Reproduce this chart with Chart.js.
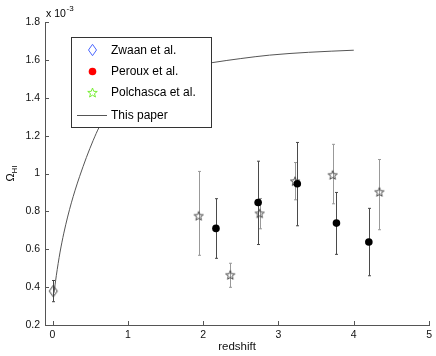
<!DOCTYPE html>
<html>
<head>
<meta charset="utf-8">
<script src="https://cdn.jsdelivr.net/npm/chart.js@4/dist/chart.umd.min.js"></script>
<style>
  html, body { margin: 0; padding: 0; background: #fff; }
  canvas { display: block; }
</style>
</head>
<body>
<canvas id="omega" width="436" height="356"></canvas>
<script>
// values in units of 1e-3
const zwaanZ = [0.01];
const zwaanOmega = [0.379];
const zwaanLow = [0.323];
const zwaanHigh = [0.435];

const perouxZ = [2.17, 2.73, 3.25, 3.77, 4.2];
const perouxOmega = [0.71, 0.847, 0.946, 0.738, 0.638];
const perouxLow = [0.552, 0.625, 0.724, 0.573, 0.46];
const perouxHigh = [0.867, 1.065, 1.164, 0.9, 0.816];

const polchascaZ = [1.94, 2.36, 2.75, 3.22, 3.72, 4.34];
const polchascaOmega = [0.777, 0.465, 0.79, 0.96, 0.993, 0.903];
const polchascaLow = [0.568, 0.399, 0.708, 0.861, 0.84, 0.703];
const polchascaHigh = [1.011, 0.526, 0.868, 1.058, 1.154, 1.074];

const modelZ = [0.02, 0.05, 0.1, 0.15, 0.2, 0.25, 0.3, 0.36, 0.45, 0.54, 0.62, 0.8, 1.0, 1.3, 1.6, 2.13, 2.5, 2.88, 3.4, 4.0];
const modelOmega = [0.37, 0.46, 0.585, 0.685, 0.77, 0.845, 0.912, 0.985, 1.085, 1.175, 1.245, 1.36, 1.44, 1.51, 1.55, 1.586, 1.607, 1.625, 1.64, 1.651];

const xTicks = [0, 1, 2, 3, 4, 5];
const yTicks = [0.2, 0.4, 0.6, 0.8, 1, 1.2, 1.4, 1.6, 1.8];

const legendLabels = ["Zwaan et al.", "Peroux et al.", "Polchasca et al.", "This paper"];

const FONT = "'Liberation Sans', Arial, Helvetica, sans-serif";

function pts(xs, ys) {
  return xs.map((v, i) => ({ x: v, y: ys[i] }));
}

// marker shapes
function drawStar(ctx, cx, cy, r, color) {
  ctx.beginPath();
  for (let k = 0; k < 10; k++) {
    const rad = k % 2 === 0 ? r : r * 0.42;
    const a = -Math.PI / 2 + k * Math.PI / 5;
    const px = cx + rad * Math.cos(a), py = cy + rad * Math.sin(a);
    if (k === 0) ctx.moveTo(px, py); else ctx.lineTo(px, py);
  }
  ctx.closePath();
  ctx.strokeStyle = color;
  ctx.lineWidth = 1;
  ctx.stroke();
}

function drawDiamond(ctx, cx, cy, hw, hh, color) {
  ctx.beginPath();
  ctx.moveTo(cx, cy - hh);
  ctx.lineTo(cx + hw, cy);
  ctx.lineTo(cx, cy + hh);
  ctx.lineTo(cx - hw, cy);
  ctx.closePath();
  ctx.strokeStyle = color;
  ctx.lineWidth = 1;
  ctx.stroke();
}

function makeIcon(draw) {
  const c = document.createElement("canvas");
  c.width = 14; c.height = 14;
  draw(c.getContext("2d"));
  return c;
}

const starIcon = makeIcon(g => drawStar(g, 7, 7.5, 4.8, "#4a4a4a"));
const diamondIcon = makeIcon(g => drawDiamond(g, 7, 7, 4, 5.7, "#3a3a3a"));

const errorBars = {
  id: "errorBars",
  beforeDatasetsDraw(chart) {
    const { ctx, scales: { x, y } } = chart;
    ctx.save();
    ctx.lineWidth = 1;
    chart.data.datasets.forEach(ds => {
      if (!ds.errLow) return;
      ds.data.forEach((p, i) => {
        const px = Math.round(x.getPixelForValue(p.x)) + 0.5;
        const top = y.getPixelForValue(ds.errHigh[i]);
        const bot = y.getPixelForValue(ds.errLow[i]);
        ctx.strokeStyle = ds.errColor;
        ctx.beginPath();
        ctx.moveTo(px, top); ctx.lineTo(px, bot);
        ctx.moveTo(px - 1.5, top); ctx.lineTo(px + 1.5, top);
        ctx.moveTo(px - 1.5, bot); ctx.lineTo(px + 1.5, bot);
        ctx.stroke();
      });
    });
    ctx.restore();
  }
};

const boxLegend = {
  id: "boxLegend",
  afterDatasetsDraw(chart) {
    const ctx = chart.ctx;
    ctx.save();
    ctx.fillStyle = "#fff";
    ctx.fillRect(71, 37, 140, 90);
    ctx.strokeStyle = "#333";
    ctx.lineWidth = 1;
    ctx.strokeRect(71.5, 37.5, 140, 90);

    const rows = [50, 71.5, 92.5, 115];
    drawDiamond(ctx, 92.5, rows[0], 4, 5.7, "#4a66ff");
    ctx.beginPath();
    ctx.arc(92.5, rows[1], 3.8, 0, Math.PI * 2);
    ctx.fillStyle = "#ff0000";
    ctx.fill();
    drawStar(ctx, 92.5, rows[2] + 0.5, 5, "#77ee33");
    ctx.strokeStyle = "#555";
    ctx.beginPath();
    ctx.moveTo(77, rows[3] + 0.5); ctx.lineTo(107, rows[3] + 0.5);
    ctx.stroke();

    ctx.fillStyle = "#000";
    ctx.font = "12px " + FONT;
    ctx.textBaseline = "middle";
    ctx.textAlign = "left";
    legendLabels.forEach((t, i) => ctx.fillText(t, 111, rows[i] + 0.5));
    ctx.restore();
  },
  afterDraw(chart) {
    const { ctx, scales: { x, y } } = chart;
    ctx.save();
    // inward ticks
    ctx.strokeStyle = "#555";
    ctx.lineWidth = 1;
    ctx.beginPath();
    yTicks.forEach(v => {
      const py = Math.round(y.getPixelForValue(v)) + 0.5;
      ctx.moveTo(x.left, py); ctx.lineTo(x.left + 4, py);
    });
    xTicks.forEach(v => {
      const px = Math.round(x.getPixelForValue(v)) + 0.5;
      ctx.moveTo(px, y.bottom); ctx.lineTo(px, y.bottom - 4);
    });
    ctx.stroke();

    // exponent label
    ctx.fillStyle = "#000";
    ctx.textBaseline = "alphabetic";
    ctx.textAlign = "left";
    ctx.font = "10.5px " + FONT;
    ctx.fillText("x 10", 46, 17);
    ctx.font = "8px " + FONT;
    ctx.fillText("-3", 66.5, 11);

    // y axis title with subscript
    ctx.translate(14, (y.top + y.bottom) / 2);
    ctx.rotate(-Math.PI / 2);
    ctx.font = "11px " + FONT;
    ctx.textAlign = "left";
    const w1 = ctx.measureText("\u03A9").width;
    ctx.font = "8px " + FONT;
    const w2 = ctx.measureText("HI").width;
    const start = -(w1 + w2) / 2;
    ctx.font = "11px " + FONT;
    ctx.fillText("\u03A9", start, 0);
    ctx.font = "8px " + FONT;
    ctx.fillText("HI", start + w1, 3);
    ctx.restore();
  }
};

const ctx = document.getElementById("omega");

new Chart(ctx, {
  type: "scatter",
  data: {
    datasets: [
      {
        label: legendLabels[0],
        data: pts(zwaanZ, zwaanOmega),
        errLow: zwaanLow,
        errHigh: zwaanHigh,
        errColor: "#444",
        pointStyle: diamondIcon,
        order: 1,
      },
      {
        label: legendLabels[1],
        data: pts(perouxZ, perouxOmega),
        errLow: perouxLow,
        errHigh: perouxHigh,
        errColor: "#4a4a4a",
        pointStyle: "circle",
        pointRadius: 3.8,
        backgroundColor: "#000",
        borderColor: "#000",
        borderWidth: 0,
        order: 1,
      },
      {
        label: legendLabels[2],
        data: pts(polchascaZ, polchascaOmega),
        errLow: polchascaLow,
        errHigh: polchascaHigh,
        errColor: "#999",
        pointStyle: starIcon,
        order: 2,
      },
      {
        label: legendLabels[3],
        data: pts(modelZ, modelOmega),
        showLine: true,
        pointRadius: 0,
        borderColor: "#555",
        borderWidth: 1,
        cubicInterpolationMode: "monotone",
        order: 3,
      },
    ],
  },
  options: {
    responsive: false,
    animation: false,
    devicePixelRatio: 1,
    layout: { padding: { top: 22, right: 6, left: 0, bottom: 0 } },
    plugins: {
      legend: { display: false },
      tooltip: { enabled: false },
    },
    scales: {
      x: {
        type: "linear",
        min: -0.1,
        max: 5,
        afterBuildTicks: s => { s.ticks = xTicks.map(v => ({ value: v })); },
        afterFit: s => { s.height = 31; },
        grid: { display: false, drawTicks: false, tickLength: 0 },
        border: { display: true, color: "#555", width: 1 },
        ticks: {
          color: "#111",
          font: { family: FONT, size: 10.5 },
          padding: 4,
          maxRotation: 0,
        },
        title: {
          display: true,
          text: "redshift",
          color: "#111",
          font: { family: FONT, size: 11.5 },
          padding: { top: 0, bottom: 2 },
        },
      },
      y: {
        type: "linear",
        min: 0.2,
        max: 1.8,
        afterBuildTicks: s => { s.ticks = yTicks.map(v => ({ value: v })); },
        afterFit: s => { s.width = 45; },
        grid: { display: false, drawTicks: false, tickLength: 0 },
        border: { display: true, color: "#555", width: 1 },
        ticks: {
          color: "#111",
          font: { family: FONT, size: 10.5 },
          padding: 5,
          callback: v => String(Number(v.toFixed(1))),
        },
      },
    },
  },
  plugins: [errorBars, boxLegend],
});
</script>
</body>
</html>
